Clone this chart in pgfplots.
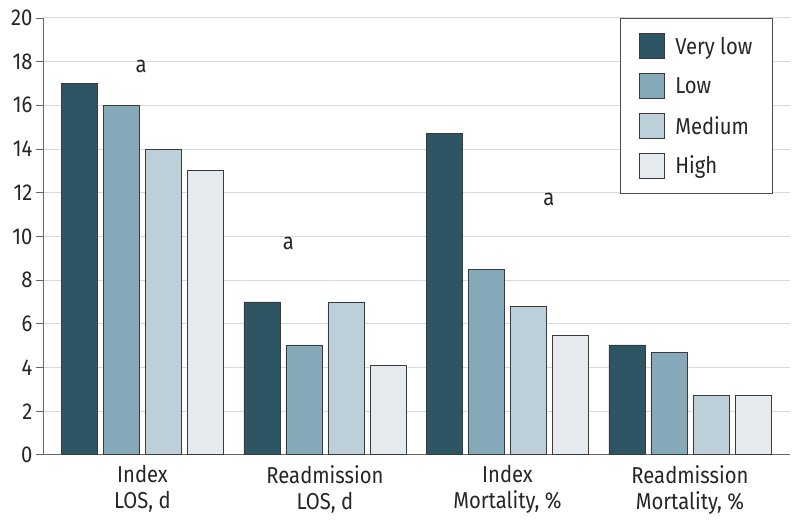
\documentclass[border=0pt]{standalone}
\usepackage{pgfplots}
\pgfplotsset{compat=1.18}
\usepackage{fontspec}
\setmainfont{Fira Sans}[FakeStretch=0.88]
\definecolor{vlow}{HTML}{2E5564}
\definecolor{low}{HTML}{86A9BA}
\definecolor{med}{HTML}{BDD0DA}
\definecolor{high}{HTML}{E4EAED}
\definecolor{edge}{HTML}{3A3A3A}
\begin{document}
\begin{tikzpicture}
\begin{axis}[
  scale only axis,
  width=747pt, height=437pt,
  xmin=-0.545, xmax=3.548,
  ymin=0, ymax=20,
  ytick={0,2,...,20},
  xtick={0,1,2,3},
  xticklabels={{Index\\LOS, d},{Readmission\\LOS, d},{Index\\Mortality, \%},{Readmission\\Mortality, \%}},
  xticklabel style={align=center, text=black!85, font=\fontsize{23}{26}\selectfont},
  yticklabel style={text=black!85, font=\fontsize{23}{26}\selectfont},
  /pgf/number format/assume math mode=true,
  axis lines*=left,
  axis line style={draw=black!60, line width=0.8pt},
  x axis line style={-},
  y axis line style={-},
  ymajorgrids,
  grid style={draw=black!15, line width=1pt},
  major x tick style={draw=none},
  tick style={draw=black!60, line width=0.8pt},
  tick align=outside,
  major tick length=7pt,
  ybar=6pt,
  bar width=36pt,
  clip=false,
  legend style={at={(rel axis cs:0.977,1.0)}, anchor=north east,
    draw=black!70, line width=0.8pt, inner xsep=18pt, inner ysep=15pt,
    row sep=14pt, font=\fontsize{23}{26}\selectfont, text=black!85,
    /tikz/every odd column/.append style={column sep=9pt}},
  legend cell align=left,
  legend image code/.code={\draw[#1, line width=0.8pt] (0pt,-12.5pt) rectangle (25pt,12.5pt);},
]
\addplot[fill=vlow, draw=edge, line width=0.8pt] coordinates {(0,17) (1,7) (2,14.7) (3,5.03)};
\addplot[fill=low, draw=edge, line width=0.8pt] coordinates {(0,16) (1,5.03) (2,8.5) (3,4.7)};
\addplot[fill=med, draw=edge, line width=0.8pt] coordinates {(0,14) (1,7) (2,6.8) (3,2.73)};
\addplot[fill=high, draw=edge, line width=0.8pt] coordinates {(0,13) (1,4.1) (2,5.45) (3,2.73)};
\legend{Very low,Low,Medium,High}
\node[text=black!85, font=\fontsize{23}{26}\selectfont] at (axis cs:-0.008,17.76) {a};
\node[text=black!85, font=\fontsize{23}{26}\selectfont] at (axis cs:0.8,9.7) {a};
\node[text=black!85, font=\fontsize{23}{26}\selectfont] at (axis cs:2.227,11.67) {a};
\path (rel axis cs:-0.0576,-0.1648) rectangle (rel axis cs:1.0134,1.041);
\end{axis}
\end{tikzpicture}
\end{document}
